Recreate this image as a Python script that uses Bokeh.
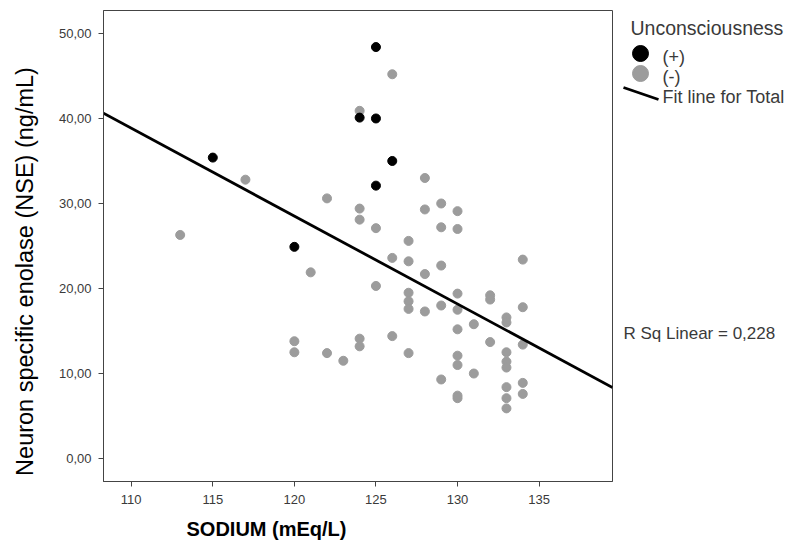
import math
from bokeh.plotting import figure
from bokeh.models import FixedTicker, Range1d
from bokeh.layouts import row, column
from bokeh.core.properties import value
from bokeh.embed import file_html
from bokeh.resources import INLINE

# ---- data ----
sodium_pos = [115, 120, 124, 125, 125, 125, 126]
nse_pos = [35.4, 24.9, 40.1, 48.4, 40.0, 32.1, 35.0]

sodium_neg = [113, 117, 120, 120, 121, 122, 122, 123,
              124, 124, 124, 124, 124, 125, 125, 126, 126, 126,
              127, 127, 127, 127, 127, 127,
              128, 128, 128, 128,
              129, 129, 129, 129, 129,
              130, 130, 130, 130, 130, 130, 130, 130, 130,
              131, 131, 132, 132, 132,
              133, 133, 133, 133, 133, 133, 133, 133,
              134, 134, 134, 134, 134]
nse_neg = [26.3, 32.8, 13.8, 12.5, 21.9, 30.6, 12.4, 11.5,
           40.9, 29.4, 28.1, 14.1, 13.2, 27.1, 20.3, 45.2, 23.6, 14.4,
           25.6, 23.2, 19.5, 18.5, 17.6, 12.4,
           33.0, 29.3, 21.7, 17.3,
           30.0, 27.2, 22.7, 18.0, 9.3,
           29.1, 27.0, 19.4, 17.5, 15.2, 12.1, 11.0, 7.4, 7.1,
           15.8, 10.0, 19.2, 18.7, 13.7,
           16.6, 16.0, 12.5, 11.4, 10.7, 8.4, 7.1, 5.9,
           23.4, 17.8, 13.4, 8.9, 7.6]

fit_intercept = 152.6
fit_slope = -1.034
r_sq_text = "R Sq Linear = 0,228"

x_ticks = [110, 115, 120, 125, 130, 135]
y_ticks = [0, 10, 20, 30, 40, 50]
y_tick_labels = ["0,00", "10,00", "20,00", "30,00", "40,00", "50,00"]

x_title = "SODIUM (mEq/L)"
y_title = "Neuron specific enolase (NSE) (ng/mL)"
legend_title = "Unconsciousness"
legend_labels = ["(+)", "(-)", "Fit line for Total"]

x_lo, x_hi = 108.3, 139.5
y_lo, y_hi = -2.7, 52.7

FONT = "Liberation Sans"
GRAY_TXT = "#3a3a3a"
POS_COLOR = "black"
NEG_COLOR = "#9c9c9c"

LW = 44          # left strip (y title)
MW = 570         # main figure
SW = 170         # side strip (legend)
TOP_H = 511      # height of the top row
BOT_H = 29       # bottom strip (x title)
FR_TOP = 10      # frame top (page px)
FR_BOT = TOP_H - 30  # frame bottom (page px)


def strip(w, h, y_range):
    f = figure(width=w, height=h, output_backend="svg", toolbar_location=None,
               x_range=Range1d(0, w), y_range=y_range,
               min_border=0, outline_line_color=None)
    f.axis.visible = False
    f.grid.visible = False
    f.background_fill_color = "white"
    f.border_fill_color = "white"
    return f


# ---- main scatter plot ----
p = figure(width=MW, height=TOP_H, output_backend="svg", toolbar_location=None,
           x_range=Range1d(x_lo, x_hi), y_range=Range1d(y_lo, y_hi),
           min_border_left=103 - LW, min_border_right=2, min_border_top=FR_TOP,
           min_border_bottom=TOP_H - FR_BOT)
p.background_fill_color = "white"
p.border_fill_color = "white"
p.outline_line_color = "#444444"
p.outline_line_width = 1
p.grid.visible = False

for ax in (p.xaxis[0], p.yaxis[0]):
    ax.major_tick_out = 5
    ax.major_tick_in = 0
    ax.minor_tick_line_color = None
    ax.axis_line_color = "#444444"
    ax.major_tick_line_color = "#444444"
    ax.major_label_text_font = FONT
    ax.major_label_text_font_size = "13px"
    ax.major_label_text_color = GRAY_TXT

p.xaxis.ticker = FixedTicker(ticks=x_ticks)
p.yaxis.ticker = FixedTicker(ticks=y_ticks)
p.yaxis.major_label_overrides = {t: l for t, l in zip(y_ticks, y_tick_labels)}
p.xaxis.major_label_standoff = 8
p.yaxis.major_label_standoff = 7

p.scatter(sodium_neg, nse_neg, size=9, marker="circle",
          fill_color=NEG_COLOR, line_color=NEG_COLOR)
p.scatter(sodium_pos, nse_pos, size=9, marker="circle",
          fill_color=POS_COLOR, line_color=POS_COLOR)
fx = [x_lo, x_hi]
fy = [fit_intercept + fit_slope * v for v in fx]
p.line(fx, fy, line_color="black", line_width=2.8)

# ---- left strip: y title (frame aligned with the main plot) ----
lf = strip(LW, TOP_H, Range1d(TOP_H - FR_BOT, TOP_H - FR_TOP))
lf.text(x=[24], y=[TOP_H - 271], text=[y_title], angle=math.pi / 2,
        text_font=value(FONT), text_font_size="23.5px", text_color="black",
        text_align="center", text_baseline="middle")

# ---- side strip: legend and R-squared note (page px, top-down) ----
s = strip(SW, TOP_H, Range1d(FR_BOT, FR_TOP))
s.text(x=[16], y=[27], text=[legend_title], text_font=value(FONT),
       text_font_size="19.5px", text_color=GRAY_TXT, text_baseline="middle")
s.scatter(x=[26], y=[53], size=16, marker="circle",
          fill_color=POS_COLOR, line_color=POS_COLOR)
s.scatter(x=[26], y=[73], size=16, marker="circle",
          fill_color=NEG_COLOR, line_color=NEG_COLOR)
s.line(x=[9, 44], y=[87, 99], line_color="black", line_width=2.8)
s.text(x=[48, 48, 48], y=[56, 76, 96], text=legend_labels,
       text_font=value(FONT), text_font_size="18px", text_color=GRAY_TXT,
       text_baseline="middle")
s.text(x=[9], y=[333], text=[r_sq_text], text_font=value(FONT),
       text_font_size="17px", text_color=GRAY_TXT, text_baseline="middle")

# ---- bottom strip: x title ----
b = strip(LW + MW + SW, BOT_H, Range1d(BOT_H, 0))
b.text(x=[186], y=[528 - TOP_H], text=[x_title], text_font=value(FONT),
       text_font_size="20px", text_font_style="bold", text_color="black",
       text_align="left", text_baseline="middle")

layout = column(row(lf, p, s), b)
open("out.html", "w").write(file_html(layout, INLINE))
